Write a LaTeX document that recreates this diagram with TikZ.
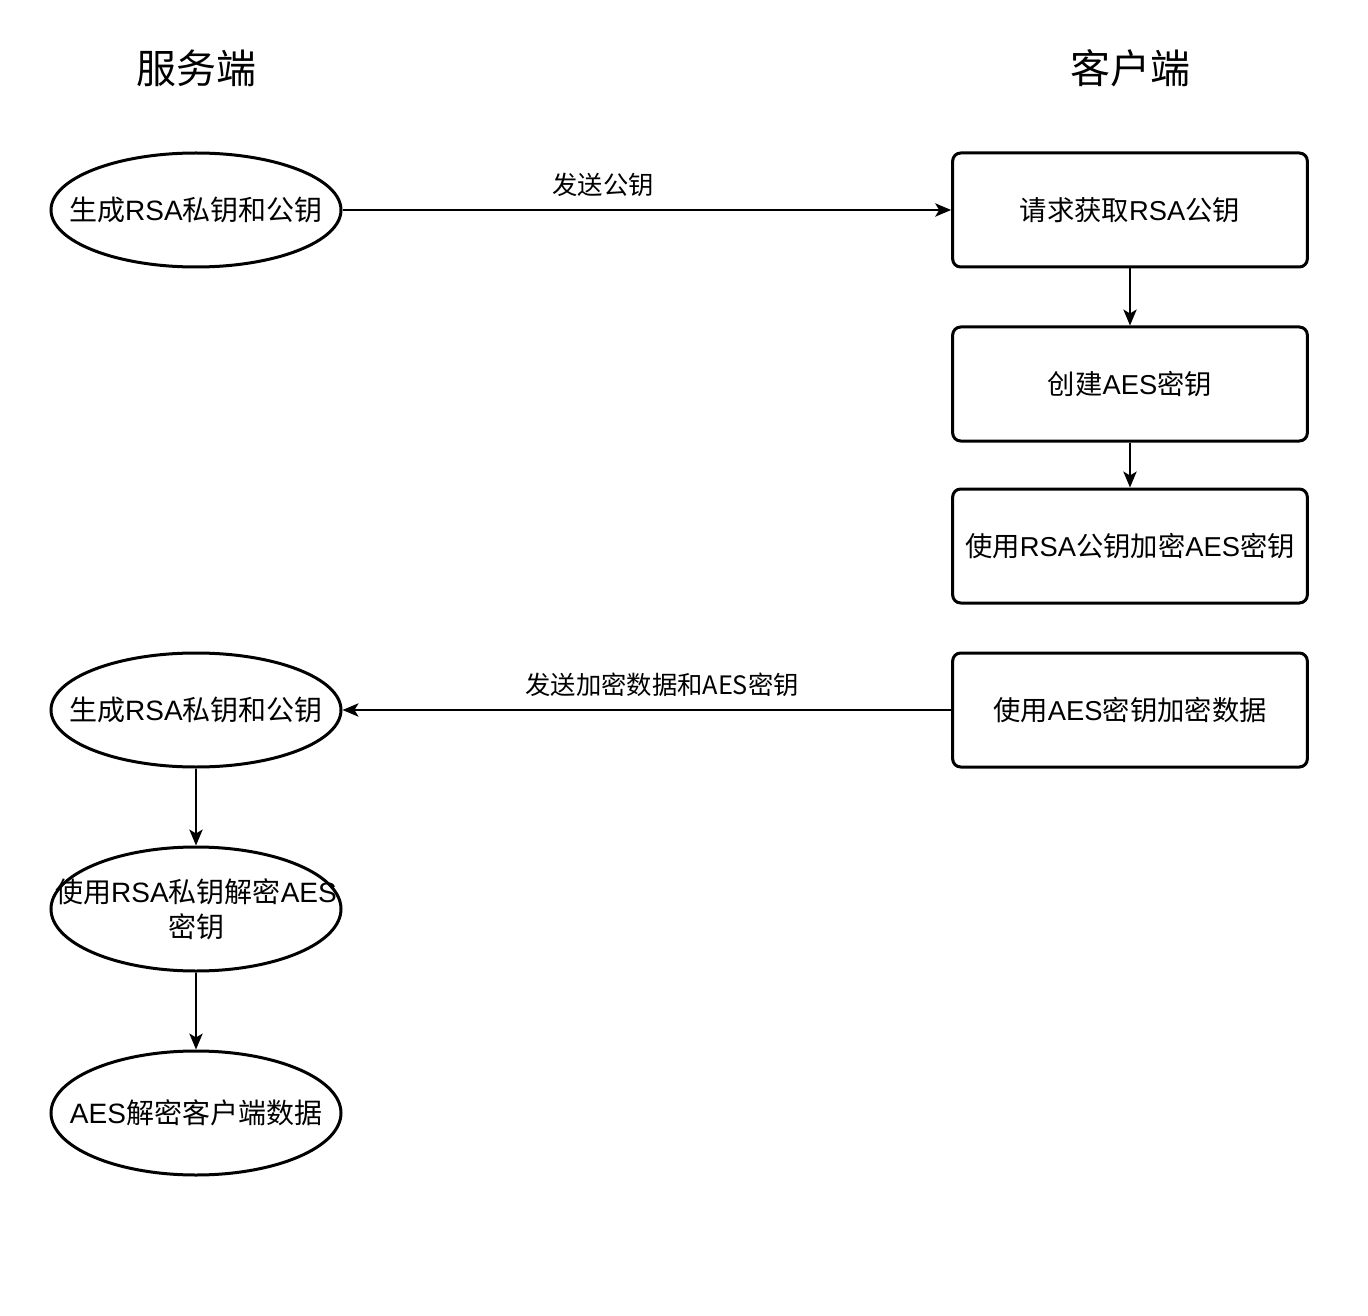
\documentclass[tikz,border=0pt]{standalone}
\usepackage{fontspec}
\setmainfont{Noto Sans CJK SC}
\newfontfamily\latin{Liberation Sans}
\newcommand{\en}[1]{{\latin #1}}
\usetikzlibrary{shapes.geometric,arrows.meta}
\tikzstyle{title} = [font=\fontsize{30}{35}\selectfont]
\tikzstyle{oval} = [ellipse, draw, line width=2.25pt, minimum width=217.5pt, minimum height=85.5pt, inner xsep=-40pt, inner ysep=-15pt, align=center, font=\fontsize{21}{26}\selectfont]
\tikzstyle{box} = [rectangle, draw, line width=2.25pt, rounded corners=6pt, minimum width=266pt, minimum height=85.5pt, inner sep=0pt, align=center, font=\fontsize{20.5}{25}\selectfont]
\tikzstyle{flow} = [line width=1.4pt, -{Stealth[length=12pt,width=10pt,inset=3pt]}]
\tikzstyle{lbl} = [font=\fontsize{19}{23}\selectfont]

\begin{document}
\begin{tikzpicture}[x=0.75pt, y=-0.75pt]
	\useasboundingbox (0,0) rectangle (1368,1316);
	\node[title] (server) at (196,68) {服务端};
	\node[title] (client) at (1130,68) {客户端};
	
	\node[oval] (gen1) at (196,210) {生成\en{RSA}私钥和公钥};
	\node[box] (req) at (1130,210) {请求获取\en{RSA}公钥};
	\node[box] (create) at (1130,384) {创建\en{AES}密钥};
	\node[box] (encaes) at (1130,546) {使用\en{RSA}公钥加密\en{AES}密钥};
	\node[box] (encdata) at (1130,710) {使用\en{AES}密钥加密数据};
	
	\node[oval] (gen2) at (196,710) {生成\en{RSA}私钥和公钥};
	\node[oval, minimum height=93pt] (decaes) at (196,909) {使用\en{RSA}私钥解密\en{AES}\\密钥};
	\node[oval, minimum height=93pt] (decdata) at (196,1113) {\en{AES}解密客户端数据};
	
	\draw[flow] (gen1) -- node[lbl, above=6pt, pos=0.428] {发送公钥} (req);
	\draw[flow] (req) -- (create);
	\draw[flow] (create) -- (encaes);
	\draw[flow] (encdata) -- node[lbl, above=6pt, pos=0.475] {发送加密数据和AES密钥} (gen2);
	\draw[flow] (gen2) -- (decaes);
	\draw[flow] (decaes) -- (decdata);
\end{tikzpicture}
\end{document}
